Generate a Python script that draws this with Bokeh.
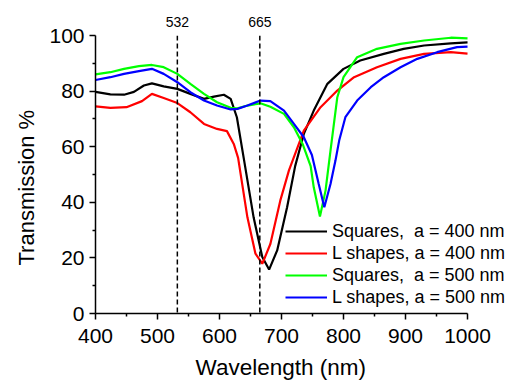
from bokeh.plotting import figure
from bokeh.models import Span, LinearAxis, FixedTicker, Legend, LegendItem, Range1d, Title
from bokeh.embed import file_html
from bokeh.resources import INLINE

# ---- data ----
wl_sq400 = [400, 424, 446, 462, 478, 491, 510, 532, 553, 575, 591, 607, 618, 628, 639, 655, 669, 680, 693, 709, 722, 736, 752, 774, 800, 827, 865, 897, 930, 973, 1000]
t_sq400 = [79.7, 78.8, 78.7, 79.7, 82, 82.8, 81.7, 80.8, 79, 77.2, 78, 78.7, 77.2, 70.6, 56, 34.6, 20.3, 15.8, 22.7, 38.2, 53, 64.6, 73, 82.6, 88, 91, 93.4, 95.2, 96.4, 97.2, 97.5]

wl_l400 = [400, 424, 450, 475, 491, 510, 532, 553, 575, 596, 612, 623, 630, 645, 658, 669, 682, 698, 712, 736, 763, 790, 817, 854, 892, 930, 973, 1000]
t_l400 = [74.5, 74, 74.2, 76.4, 79, 77.5, 75.7, 72.4, 68.2, 66.4, 65.6, 61, 56, 34.6, 21.5, 17.9, 25, 40.6, 51.5, 65.8, 74.2, 80.2, 85, 88.6, 91.6, 93.4, 94, 93.5]

wl_sq500 = [400, 424, 446, 470, 491, 510, 532, 553, 575, 596, 618, 629, 645, 666, 682, 704, 720, 734, 747, 752, 762, 771, 779, 790, 800, 822, 854, 892, 930, 973, 1000]
t_sq500 = [86, 86.8, 88, 89, 89.4, 88.6, 86.2, 82.6, 79, 76, 74, 73.8, 74.8, 75.6, 74.4, 71.8, 67, 61, 53, 45.4, 34.9, 44.2, 58.6, 77.8, 85, 92.2, 95.2, 97, 98.2, 99.2, 99]

wl_l500 = [400, 424, 446, 470, 491, 510, 532, 553, 575, 596, 618, 629, 645, 666, 682, 704, 720, 736, 749, 760, 769, 779, 787, 793, 803, 822, 844, 865, 892, 919, 951, 983, 1000]
t_l500 = [84, 85, 86.2, 87.2, 88, 86.2, 83.2, 79.6, 76.6, 74.8, 73.4, 73.6, 74.8, 76.6, 76.4, 73, 68.2, 63.4, 57, 46.6, 38.2, 46.6, 55, 62.2, 70.6, 76.6, 81.4, 85, 88.6, 91.6, 94, 95.8, 96]

labels = ["Squares,\u00a0 a = 400 nm", "L shapes, a = 400 nm", "Squares,\u00a0 a = 500 nm", "L shapes, a = 500 nm"]
colors = ["#000000", "#ff0000", "#00ff00", "#0000ff"]
marker_wl = [532, 665]
x_ticks = [400, 500, 600, 700, 800, 900, 1000]
y_ticks = [0, 20, 40, 60, 80, 100]

FONT = "Liberation Sans"

# frame extends past 1000 nm (axis is bounded at 1000) so the legend text fits like the original
p = figure(frame_width=422, frame_height=278, output_backend="svg", toolbar_location=None,
           x_range=Range1d(400, 1080.6), y_range=Range1d(0, 100),
           min_border_left=95, min_border_top=35, min_border_right=0, min_border_bottom=70)
p.outline_line_color = None
p.grid.visible = False
p.background_fill_color = "white"
p.border_fill_color = "white"

for ax in (p.xaxis[0], p.yaxis[0]):
    ax.axis_line_width = 1.5
    ax.axis_line_color = "black"
    ax.major_tick_in = 0
    ax.major_tick_out = 6
    ax.major_tick_line_width = 1.5
    ax.minor_tick_in = 0
    ax.minor_tick_out = 3
    ax.minor_tick_line_width = 1.5
    ax.major_label_text_font = FONT
    ax.major_label_text_font_size = "21px"
    ax.major_label_text_color = "black"

p.xaxis[0].ticker = FixedTicker(ticks=x_ticks, minor_ticks=[450, 550, 650, 750, 850, 950])
p.xaxis[0].bounds = (400, 1000)
p.yaxis[0].ticker = FixedTicker(ticks=y_ticks, minor_ticks=[10, 30, 50, 70, 90])
p.xaxis[0].major_label_standoff = 9
p.yaxis[0].major_label_standoff = 5

xtitle = Title(text="Wavelength (nm)", align="left", offset=100, text_font=FONT,
               text_font_size="22.5px", text_font_style="normal", text_color="black",
               standoff=14)
p.add_layout(xtitle, "below")

ytitle = Title(text="Transmission %", align="left", offset=48, text_font=FONT,
               text_font_size="22px", text_font_style="normal", text_color="black",
               standoff=16)
p.add_layout(ytitle, "left")

# top labels for dashed lines
top = LinearAxis(ticker=FixedTicker(ticks=marker_wl, minor_ticks=[]))
top.axis_line_color = None
top.major_tick_line_color = None
top.minor_tick_line_color = None
top.major_label_text_font = FONT
top.major_label_text_font_size = "14px"
top.major_label_text_color = "black"
top.major_label_standoff = 3
p.add_layout(top, "above")

for w in marker_wl:
    p.add_layout(Span(location=w, dimension="height", line_color="black",
                      line_dash="5 3", line_width=1.5))

renderers = []
for wl, t, c in ((wl_sq400, t_sq400, colors[0]), (wl_l400, t_l400, colors[1]),
                 (wl_sq500, t_sq500, colors[2]), (wl_l500, t_l500, colors[3])):
    renderers.append(p.line(wl, t, line_color=c, line_width=2.2))

legend = Legend(items=[LegendItem(label=l, renderers=[r]) for l, r in zip(labels, renderers)],
                location=(190, 5))
legend.border_line_color = None
legend.background_fill_alpha = 0
legend.padding = 0
legend.margin = 0
legend.spacing = 0
legend.label_height = 22
legend.glyph_height = 22
legend.glyph_width = 42
legend.label_standoff = 5
legend.label_text_font = FONT
legend.label_text_font_size = "18px"
legend.label_text_color = "black"
p.add_layout(legend, "center")

open("out.html", "w").write(file_html(p, INLINE))
